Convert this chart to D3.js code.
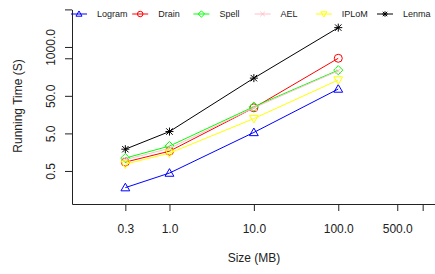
<!DOCTYPE html>
<html>
<head>
<meta charset="utf-8">
<script src="https://cdn.jsdelivr.net/npm/d3@7"></script>
<style>
  body { margin: 0; background: #fff; }
  svg text { font-family: "Liberation Sans", Arial, sans-serif; fill: #222; }
</style>
</head>
<body>
<div id="chart"></div>
<script>
// sizes in MB, running time in seconds
const sizes = [0.3, 1, 10, 100];
const logram = [0.18, 0.44, 5.3, 76];
const drain = [0.86, 1.68, 24, 500];
const spell = [1.1, 2.3, 25.7, 241];
const ael = [1.0, 2.0, 24, 230];
const iplom = [0.76, 1.49, 12.4, 132];
const lenma = [1.9, 5.6, 148, 3270];

const seriesNames = ["Logram", "Drain", "Spell", "AEL", "IPLoM", "Lenma"];
const seriesColors = ["#0000ff", "#ff0000", "#00ff00", "#ffc0cb", "#ffff00", "#000000"];
const seriesShapes = ["tri", "circle", "diamond", "cross", "tridown", "star"];
const seriesValues = [logram, drain, spell, ael, iplom, lenma];

const xTicks = [0.3, 1, 10, 100, 500, 1000];
const xLabelled = [0.3, 1, 10, 100, 500];
const yTicks = [0.5, 5, 50, 500, 1000, 10000];
const yLabelled = [0.5, 5, 50, 1000];

const W = 435, H = 274;
const svg = d3.select("#chart").append("svg").attr("width", W).attr("height", H);

const x = d3.scaleLog().domain([0.07, 1400]).range([72, 435]);
const y = d3.scaleLog().domain([0.066, 10000]).range([204, 9.4]);

// axes
const xAxis = svg.append("g").attr("transform", "translate(0,204)")
    .call(d3.axisBottom(x).tickValues(xTicks).tickSize(7).tickSizeOuter(0)
        .tickFormat(d => xLabelled.includes(d) ? d3.format(".1f")(d) : ""));
xAxis.selectAll("text").attr("y", 29).attr("dy", null).style("font-size", "12px");

const yAxis = svg.append("g").attr("transform", "translate(72,0)")
    .call(d3.axisLeft(y).tickValues(yTicks).tickSize(7).tickSizeOuter(0)
        .tickFormat(d => yLabelled.includes(d) ? d3.format(".1f")(d) : ""));
yAxis.selectAll("text")
    .attr("x", null).attr("dy", null)
    .attr("text-anchor", "middle")
    .attr("transform", "translate(-17,0) rotate(-90)")
    .style("font-size", "12px");

svg.selectAll(".domain, .tick line").attr("stroke", "#222");

svg.append("text").attr("x", 254).attr("y", 262).attr("text-anchor", "middle")
    .style("font-size", "12px").text("Size (MB)");
svg.append("text").attr("transform", "translate(22,106) rotate(-90)")
    .attr("text-anchor", "middle").style("font-size", "12px").text("Running Time (S)");

// R style point symbols
function marker(g, shape, s, color) {
    const h = s / 2;
    if (shape === "circle") {
        g.append("circle").attr("r", h).attr("fill", "none").attr("stroke", color);
    } else if (shape === "tri") {
        g.append("path").attr("d", `M0,${-h * 1.1}L${h * 1.1},${h * 0.8}L${-h * 1.1},${h * 0.8}Z`)
            .attr("fill", "none").attr("stroke", color);
    } else if (shape === "tridown") {
        g.append("path").attr("d", `M0,${h * 1.1}L${h * 1.1},${-h * 0.8}L${-h * 1.1},${-h * 0.8}Z`)
            .attr("fill", "none").attr("stroke", color);
    } else if (shape === "diamond") {
        g.append("path").attr("d", `M0,${-h * 1.15}L${h * 1.15},0L0,${h * 1.15}L${-h * 1.15},0Z`)
            .attr("fill", "none").attr("stroke", color);
    } else if (shape === "cross") {
        g.append("path").attr("d", `M${-h * 0.8},${-h * 0.8}L${h * 0.8},${h * 0.8}M${-h * 0.8},${h * 0.8}L${h * 0.8},${-h * 0.8}`)
            .attr("stroke", color);
    } else if (shape === "star") {
        g.append("path").attr("d", `M${-h * 0.8},${-h * 0.8}L${h * 0.8},${h * 0.8}M${-h * 0.8},${h * 0.8}L${h * 0.8},${-h * 0.8}M${-h},0L${h},0M0,${-h}L0,${h}`)
            .attr("stroke", color);
    }
}

const line = d3.line().x((d, i) => x(sizes[i])).y(d => y(d));

seriesValues.forEach((vals, k) => {
    svg.append("path").datum(vals).attr("d", line)
        .attr("fill", "none").attr("stroke", seriesColors[k]).attr("stroke-width", 1);
    vals.forEach((v, i) => {
        const g = svg.append("g").attr("transform", `translate(${x(sizes[i])},${y(v)})`);
        marker(g, seriesShapes[k], 8, seriesColors[k]);
    });
});

// legend along the top
const legend = svg.append("g");
seriesNames.forEach((name, k) => {
    const cx = 79 + k * 61.2;
    const g = legend.append("g").attr("transform", `translate(${cx},14)`);
    g.append("line").attr("x1", -8).attr("x2", 8).attr("stroke", seriesColors[k]);
    marker(g, seriesShapes[k], 5.5, seriesColors[k]);
    g.append("text").attr("x", 18).attr("y", 3.2).style("font-size", "9px").text(name);
});
</script>
</body>
</html>
